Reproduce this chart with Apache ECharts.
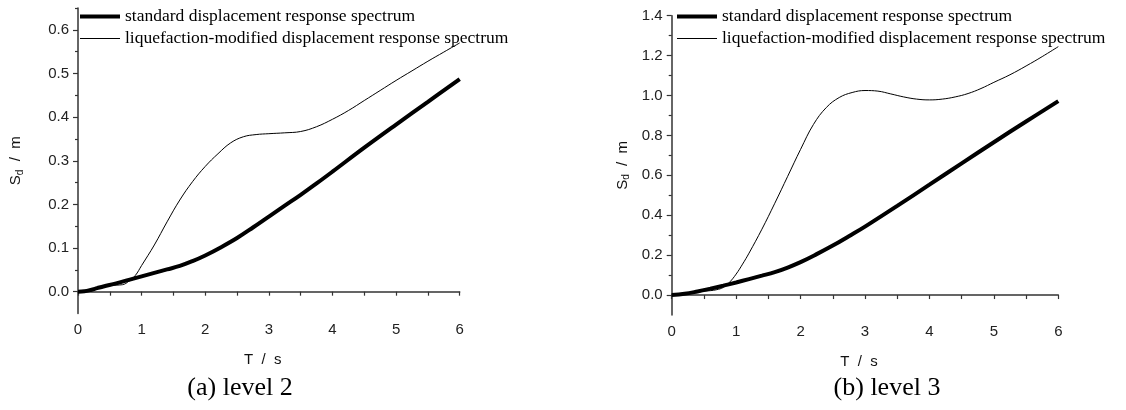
<!DOCTYPE html>
<html>
<head>
<meta charset="utf-8">
<script src="https://cdn.jsdelivr.net/npm/echarts@6/dist/echarts.min.js"></script>
<style>
  html, body { margin: 0; padding: 0; background: #fff; }
  #main { width: 1126px; height: 410px; }
</style>
</head>
<body>
<div id="main"></div>
<script>
// level 2 - standard spectrum
var tStdA = [0, 0.1, 0.2, 0.3, 0.4, 0.6, 0.8, 1.0, 1.2, 1.4, 1.6, 1.8, 2.0, 2.25, 2.5, 2.75, 3.0, 3.25, 3.5, 3.75, 4.0, 4.5, 5.0, 5.5, 6.0];
var sdStdA = [0, 0.001, 0.004, 0.008, 0.012, 0.019, 0.027, 0.035, 0.043, 0.051, 0.059, 0.07, 0.083, 0.102, 0.123, 0.147, 0.172, 0.197, 0.222, 0.248, 0.275, 0.33, 0.383, 0.435, 0.487];
// level 2 - liquefaction-modified
var tLiqA = [0, 0.1, 0.2, 0.3, 0.4, 0.5, 0.6, 0.7, 0.8, 0.9, 1.0, 1.2, 1.4, 1.6, 1.8, 2.0, 2.2, 2.4, 2.6, 2.8, 3.0, 3.25, 3.5, 3.75, 4.0, 4.25, 4.5, 4.75, 5.0, 5.25, 5.5, 5.75, 6.0];
var sdLiqA = [0, 0.001, 0.004, 0.008, 0.012, 0.014, 0.015, 0.016, 0.024, 0.037, 0.06, 0.107, 0.16, 0.21, 0.252, 0.287, 0.316, 0.341, 0.355, 0.36, 0.362, 0.364, 0.367, 0.378, 0.395, 0.415, 0.438, 0.461, 0.484, 0.506, 0.528, 0.549, 0.57];

// level 3 - standard spectrum
var tStdB = [0, 0.2, 0.4, 0.6, 0.8, 1.0, 1.2, 1.4, 1.6, 1.8, 2.0, 2.25, 2.5, 2.75, 3.0, 3.5, 4.0, 4.5, 5.0, 5.5, 6.0];
var sdStdB = [0, 0.006, 0.018, 0.032, 0.047, 0.063, 0.08, 0.097, 0.115, 0.138, 0.165, 0.205, 0.248, 0.295, 0.343, 0.447, 0.553, 0.66, 0.766, 0.87, 0.972];
// level 3 - liquefaction-modified
var tLiqB = [0, 0.2, 0.4, 0.5, 0.6, 0.7, 0.8, 0.9, 1.0, 1.1, 1.2, 1.4, 1.6, 1.8, 2.0, 2.2, 2.4, 2.6, 2.8, 3.0, 3.2, 3.4, 3.6, 3.8, 4.0, 4.2, 4.4, 4.6, 4.8, 5.0, 5.25, 5.5, 5.75, 6.0];
var sdLiqB = [0, 0.006, 0.017, 0.02, 0.022, 0.027, 0.038, 0.065, 0.105, 0.155, 0.21, 0.33, 0.46, 0.595, 0.73, 0.855, 0.94, 0.99, 1.015, 1.025, 1.022, 1.008, 0.993, 0.982, 0.978, 0.982, 0.993, 1.01, 1.035, 1.066, 1.104, 1.148, 1.195, 1.245];

// tick labels
var yTicksA = [0, 0.1, 0.2, 0.3, 0.4, 0.5, 0.6];
var yMinorA = [0.05, 0.15, 0.25, 0.35, 0.45, 0.55, 0.65];
var yTicksB = [0, 0.2, 0.4, 0.6, 0.8, 1.0, 1.2, 1.4];
var yMinorB = [0.1, 0.3, 0.5, 0.7, 0.9, 1.1, 1.3];

var nameStd = 'standard displacement response spectrum';
var nameLiq = 'liquefaction-modified displacement response spectrum';

function pairs(xs, ys) {
    var out = [];
    for (var i = 0; i < xs.length; i++) out.push([xs[i], ys[i]]);
    return out;
}

var sans = 'Liberation Sans';
var serif = 'Liberation Serif';
var axisColor = '#333';

function xAxisCfg(grid) {
    return {
        type: 'value', gridIndex: grid, min: 0, max: 6, interval: 1,
        name: 'T  /  s', nameLocation: 'middle', nameGap: 39,
        nameTextStyle: { fontFamily: sans, fontSize: 15, color: '#111', padding: [0, 12, 0, 0] },
        axisLine: { show: true, lineStyle: { color: axisColor, width: 1.5 } },
        axisTick: { show: true, length: 4, lineStyle: { color: axisColor, width: 1.2 } },
        minorTick: { show: true, splitNumber: 2, length: 4, lineStyle: { color: axisColor, width: 1.2 } },
        axisLabel: { fontFamily: sans, fontSize: 15, color: '#222', margin: 9 },
        splitLine: { show: false }
    };
}

function yAxisCfg(grid, min, max, ticks, gap) {
    return {
        type: 'value', gridIndex: grid, min: min, max: max, position: 'left',
        name: '{a|S}{b|d}{a|  /  m}', nameLocation: 'middle', nameGap: gap,
        nameTextStyle: {
            color: '#111',
            rich: {
                a: { fontFamily: sans, fontSize: 15, color: '#111' },
                b: { fontFamily: sans, fontSize: 10, color: '#111', padding: [8, 0, 0, 0] }
            }
        },
        axisLine: { show: true, onZero: false, lineStyle: { color: axisColor, width: 1.5 } },
        axisTick: { show: true, length: 5, customValues: ticks, lineStyle: { color: axisColor, width: 1.2 } },
        axisLabel: {
            fontFamily: sans, fontSize: 15, color: '#222', margin: 9, customValues: ticks,
            formatter: function (v) { return v.toFixed(1); }
        },
        splitLine: { show: false }
    };
}

function yMinorCfg(grid, min, max, ticks) {
    return {
        type: 'value', gridIndex: grid, min: min, max: max, position: 'left', offset: 0,
        axisLine: { show: false },
        axisTick: { show: true, length: 3, customValues: ticks, lineStyle: { color: axisColor, width: 1.2 } },
        axisLabel: { show: false },
        splitLine: { show: false }
    };
}

function lineSeries(name, xi, yi, data, width) {
    return {
        name: name, type: 'line', xAxisIndex: xi, yAxisIndex: yi,
        data: data, smooth: 0.4, symbol: 'none', silent: true,
        lineStyle: { color: '#000', width: width }, itemStyle: { color: '#000' }
    };
}

// legend icons: flat bars, kept at their aspect inside 40x14
function legendCfg(left) {
    return {
        orient: 'vertical', left: left, top: 7.5, padding: 0,
        itemWidth: 40, itemHeight: 14, itemGap: 4,
        selectedMode: false, symbolKeepAspect: true,
        textStyle: { fontFamily: serif, fontSize: 17.5, color: '#000', lineHeight: 16 },
        data: [
            { name: nameStd, icon: 'path://M0,0L40,0L40,4L0,4Z', itemStyle: { color: '#000' } },
            { name: nameLiq, icon: 'path://M0,0L40,0L40,1L0,1Z', itemStyle: { color: '#000' } }
        ]
    };
}

var chart = echarts.init(document.getElementById('main'), null, { renderer: 'canvas' });

chart.setOption({
    backgroundColor: '#fff',
    animation: false,
    grid: [
        { left: 78, top: 8, width: 381.7, height: 305.5 },
        { left: 671.7, top: 15.7, width: 386.6, height: 299.3 }
    ],
    legend: [legendCfg(80), legendCfg(677)],
    xAxis: [xAxisCfg(0), xAxisCfg(1)],
    yAxis: [
        yAxisCfg(0, -0.05, 0.65, yTicksA, 53),
        yMinorCfg(0, -0.05, 0.65, yMinorA),
        yAxisCfg(1, -0.1, 1.4, yTicksB, 40),
        yMinorCfg(1, -0.1, 1.4, yMinorB)
    ],
    series: [
        lineSeries(nameStd, 0, 0, pairs(tStdA, sdStdA), 4),
        lineSeries(nameLiq, 0, 0, pairs(tLiqA, sdLiqA), 1),
        lineSeries(nameStd, 1, 2, pairs(tStdB, sdStdB), 4),
        lineSeries(nameLiq, 1, 2, pairs(tLiqB, sdLiqB), 1)
    ],
    graphic: [
        { type: 'text', x: 240, y: 388, style: { text: '(a) level 2', font: '26px "Liberation Serif"', fill: '#000', textAlign: 'center', textVerticalAlign: 'middle' } },
        { type: 'text', x: 887, y: 388, style: { text: '(b) level 3', font: '26px "Liberation Serif"', fill: '#000', textAlign: 'center', textVerticalAlign: 'middle' } }
    ]
});
</script>
</body>
</html>
